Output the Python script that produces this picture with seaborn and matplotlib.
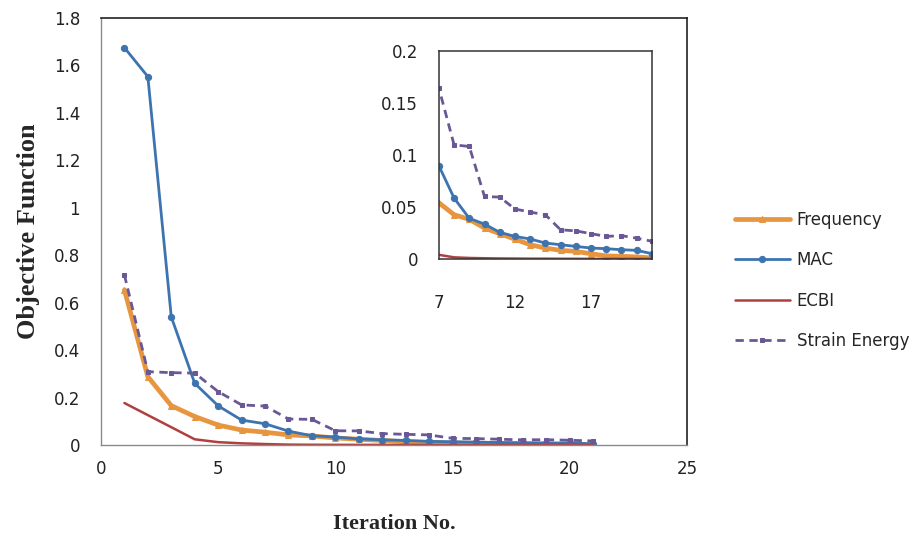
import matplotlib
matplotlib.use("Agg")
import matplotlib.pyplot as plt
import numpy as np
import seaborn as sns

# values
iterations = list(range(1, 22))
frequency = [0.654, 0.288, 0.166, 0.120, 0.084, 0.063, 0.054, 0.0425, 0.038, 0.0297, 0.0243,
             0.019, 0.0137, 0.0105, 0.0083, 0.0073, 0.005, 0.003, 0.0026, 0.002, 0.001]
mac = [1.675, 1.553, 0.540, 0.260, 0.165, 0.105, 0.0895, 0.0585, 0.039, 0.0335, 0.0256,
       0.0217, 0.0192, 0.0153, 0.0137, 0.0121, 0.0105, 0.0099, 0.0089, 0.0083, 0.0051]
ecbi = [0.177, 0.126, 0.075, 0.024, 0.012, 0.007, 0.004, 0.0016, 0.001, 0.0007, 0.0005,
        0.0004, 0.0003, 0.0003, 0.0002, 0.0002, 0.0001, 0.0001, 0.0001, 0.0001, 0.0001]
strain_energy = [0.717, 0.309, 0.305, 0.303, 0.225, 0.169, 0.164, 0.1096, 0.108, 0.060, 0.0594,
                 0.048, 0.045, 0.0425, 0.028, 0.027, 0.0243, 0.0217, 0.0224, 0.020, 0.017]

main_xticks = [0, 5, 10, 15, 20, 25]
main_yticks = [0, 0.2, 0.4, 0.6, 0.8, 1, 1.2, 1.4, 1.6, 1.8]
inset_xticks = [7, 12, 17]
inset_yticks = [0, 0.05, 0.1, 0.15, 0.2]

ORANGE, BLUE, RED, PURPLE = "#E8953F", "#3D74B0", "#B0403F", "#6A5896"
series = [
    ("Frequency", frequency, dict(color=ORANGE, marker="^", markersize=4.5, markeredgecolor=ORANGE,
                                  linewidth=3.4)),
    ("MAC", mac, dict(color=BLUE, marker="o", markersize=4.5, markeredgecolor=BLUE, linewidth=2.0)),
    ("ECBI", ecbi, dict(color=RED, linewidth=1.8)),
    ("Strain Energy", strain_energy, dict(color=PURPLE, marker="s", markersize=3.5,
                                          markeredgecolor=PURPLE, linewidth=2.0,
                                          linestyle=(0, (3, 2)))),
]

sns.set_style("white")
plt.rcParams["font.family"] = ["DejaVu Sans"]

fig = plt.figure(figsize=(9.22, 5.39), dpi=100)
ax = fig.add_axes([0.1095, 0.1744, 0.6356, 0.7922])
axin = fig.add_axes([0.476, 0.5195, 0.231, 0.3865])

for name, vals, style in series:
    sns.lineplot(x=iterations, y=vals, ax=ax, label=name, **style)
    sns.lineplot(x=iterations, y=vals, ax=axin, **style)

ax.set_xlim(0, 25)
ax.set_ylim(0, 1.8)
ax.set_xticks(main_xticks)
ax.set_xticklabels([str(t) for t in main_xticks])
ax.set_yticks(main_yticks)
ax.set_yticklabels([f"{t:g}" for t in main_yticks])
ax.tick_params(length=0, labelsize=12, colors="#222222")
ax.tick_params(axis="y", pad=15)
ax.tick_params(axis="x", pad=11)
ax.set_xlabel("Iteration No.", family="Liberation Serif", fontweight="bold", fontsize=16, labelpad=26)
ax.set_ylabel("Objective Function", family="Liberation Serif", fontweight="bold", fontsize=19, labelpad=10)
for side in ["left", "bottom"]:
    ax.spines[side].set_color("#8a8a8a")
    ax.spines[side].set_linewidth(1.0)
for side in ["top", "right"]:
    ax.spines[side].set_color("#222222")
    ax.spines[side].set_linewidth(1.2)

axin.set_xlim(7, 21)
axin.set_ylim(0, 0.2)
axin.set_xticks(inset_xticks)
axin.set_xticklabels([str(t) for t in inset_xticks])
axin.set_yticks(inset_yticks)
axin.set_yticklabels([f"{t:g}" for t in inset_yticks])
axin.tick_params(length=0, labelsize=12, colors="#222222")
axin.tick_params(axis="y", pad=15)
axin.tick_params(axis="x", pad=25)
axin.set_xlabel("")
axin.set_ylabel("")
for side in axin.spines.values():
    side.set_color("#333333")
    side.set_linewidth(1.1)
axin.patch.set_facecolor("white")

handles, labels = ax.get_legend_handles_labels()
ax.get_legend().remove()
fig.legend(handles, labels, loc="center left", bbox_to_anchor=(0.797, 0.48), frameon=False,
           fontsize=12, labelspacing=1.35, handlelength=3.3, handletextpad=0.4,
           borderpad=0, borderaxespad=0)

fig.savefig("out.png", dpi=100)
